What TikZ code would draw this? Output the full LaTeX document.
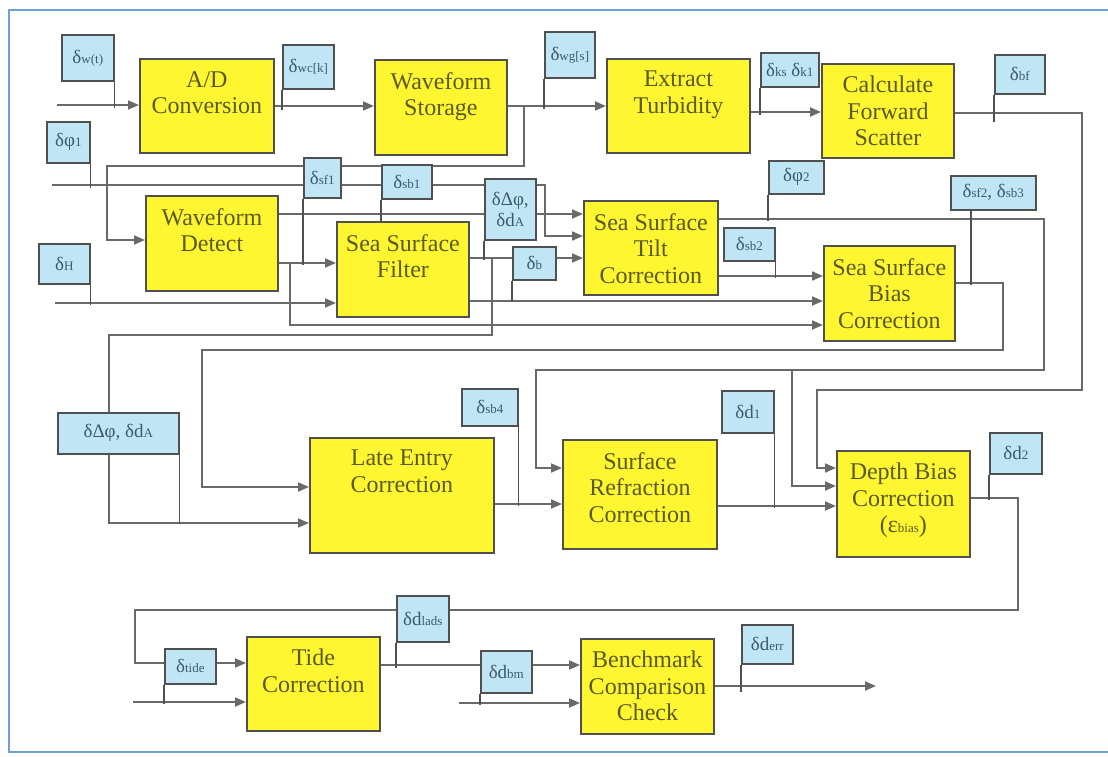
\documentclass[tikz,border=0pt]{standalone}
\usepackage{fontspec}
\setmainfont{Liberation Serif}
\newfontfamily\tnr{Liberation Serif}
\usetikzlibrary{arrows.meta}
\pgfdeclarelayer{bg}
\pgfsetlayers{bg,main}
\definecolor{ylw}{RGB}{255,246,50}
\definecolor{lbl}{RGB}{192,230,246}
\definecolor{bord}{RGB}{80,80,80}
\definecolor{wirec}{RGB}{105,105,105}
\definecolor{ytxt}{RGB}{90,90,35}
\definecolor{btxt}{RGB}{60,90,108}
\definecolor{frm}{RGB}{110,160,215}
\newcommand\mysub[1]{{\fontsize{13}{14}\selectfont #1}}
\tikzset{
 ybox/.style={draw=bord, line width=1.8pt, fill=ylw, inner sep=0pt, anchor=north west},
 bbox/.style={draw=bord, line width=1.6pt, fill=lbl, inner sep=0pt, anchor=north west, text=btxt, font=\tnr\fontsize{19}{21}\selectfont, align=center},
 ytext/.style={anchor=north, align=center, text=ytxt, inner sep=0pt, font=\tnr\fontsize{24}{26.5}\selectfont},
 wire/.style={draw=wirec, line width=1.8pt},
 arr/.style={wire, -{Triangle[length=11pt,width=9pt]}},
 pole/.style={draw=bord, line width=1.6pt},
}
\newcommand\YB[6]{%
 \node[ybox, minimum width={#4-#2}, minimum height={#5-#3}] (#1) at (#2,#3) {};
 \node[ytext] (#1T) at ([yshift=-13pt]#1.north) {#6};}
\newcommand\BB[6]{%
 \node[bbox, minimum width={#4-#2}, minimum height={#5-#3}] (#1) at (#2,#3) {#6};}
\begin{document}
\begin{tikzpicture}[x=1pt,y=-1pt]
\useasboundingbox (0,0) rectangle (1108,757);
\begin{pgfonlayer}{bg}
\fill[white] (0,0) rectangle (1108,757);
\end{pgfonlayer}
\draw[frm, line width=2pt] (9,10) rectangle (1130,752);

% yellow process boxes
\YB{ad}{139}{58}{273}{152}{A/D\\Conversion}
\YB{ws}{374}{59}{506}{154}{Waveform\\Storage}
\YB{et}{606}{58}{749}{152}{Extract\\Turbidity}
\YB{cfs}{821}{63}{953}{157}{Calculate\\Forward\\Scatter}
\YB{wd}{145}{195}{277}{290}{Waveform\\Detect}
\YB{ssf}{336}{221}{468}{316}{Sea Surface\\Filter}
\YB{sst}{583}{200}{717}{294}{Sea Surface\\Tilt\\Correction}
\YB{ssb}{823}{245}{954}{340}{Sea Surface\\Bias\\Correction}
\YB{le}{309}{437}{493}{552}{Late Entry\\Correction}
\YB{src}{562}{439}{716}{548}{Surface\\Refraction\\Correction}
\YB{db}{836}{450}{969}{556}{Depth Bias\\Correction\\(ε\mysub{bias})}
\YB{tc}{246}{636}{379}{730}{Tide\\Correction}
\YB{bcc}{580}{638}{713}{733}{Benchmark\\Comparison\\Check}

% blue error labels
\BB{wt}{61}{34}{113}{80}{δ\mysub{w(t)}}
\BB{wck}{282}{44}{333}{88}{δ\mysub{wc[k]}}
\BB{wgs}{544}{31}{594}{77}{δ\mysub{wg[s]}}
\BB{ks}{760}{52}{818}{86}{δ\mysub{ks} δ\mysub{k1}}
\BB{bf}{994}{54}{1044}{93}{δ\mysub{bf}}
\BB{phia}{46}{121}{89}{162}{δφ\mysub{1}}
\BB{sfa}{303}{157}{340}{197}{δ\mysub{sf1}}
\BB{sba}{381}{164}{431}{198}{δ\mysub{sb1}}
\BB{dpa}{484}{178}{535}{239}{δΔφ,\\δd\mysub{A}}
\BB{b}{512}{246}{555}{279}{δ\mysub{b}}
\BB{phib}{768}{160}{823}{193}{δφ\mysub{2}}
\BB{sbb}{723}{227}{774}{260}{δ\mysub{sb2}}
\BB{sfb}{950}{175}{1035}{209}{δ\mysub{sf2}, δ\mysub{sb3}}
\BB{h}{38}{243}{89}{283}{δ\mysub{H}}
\BB{dpb}{57}{412}{178}{453}{δΔφ, δd\mysub{A}}
\BB{sbd}{461}{388}{517}{425}{δ\mysub{sb4}}
\BB{da}{721}{390}{773}{432}{δd\mysub{1}}
\BB{db2}{989}{432}{1041}{473}{δd\mysub{2}}
\BB{dl}{396}{595}{448}{641}{δd\mysub{lads}}
\BB{tide}{164}{648}{215}{683}{δ\mysub{tide}}
\BB{dbm}{480}{650}{531}{692}{δd\mysub{bm}}
\BB{derr}{741}{624}{792}{663}{δd\mysub{err}}

\begin{pgfonlayer}{bg}
% row 1
\coordinate (in1) at (57,105);
\draw[arr] (in1) -- (ad.west |- in1);
\draw[arr] (ad.east |- 0,106) -- (ws.west |- 0,106);
\draw[arr] (ws.east |- 0,106) -- (et.west |- 0,106);
\coordinate (j1) at (524,106);
\draw[arr] (j1) |- (107,166) |- (wd.west |- 0,240);
\draw[arr] (et.east |- 0,112) -- (cfs.west |- 0,112);
\draw[arr] (cfs.east |- 0,113) -| (1082,390) -| (817,468) -- (db.west |- 0,468);
% phi1 input
\coordinate (in2) at (52,185);
\draw[arr] (in2) -| (545,236) -- (sst.west |- 0,236);
% waveform detect outputs
\draw[arr] (wd.east |- 0,214) -- (sst.west |- 0,214);
\draw[arr] (wd.east |- 0,263) -- (ssf.west |- 0,263);
\coordinate (j2) at (290,263);
\draw[arr] (j2) |- (ssb.west |- 0,325);
\coordinate (in3) at (55,303);
\draw[arr] (in3) -- (ssf.west |- in3);
% sea surface filter outputs
\draw[arr] (ssf.east |- 0,258) -- (sst.west |- 0,258);
\coordinate (j3) at (492,258);
\draw[arr] (j3) |- (109,335) |- (le.west |- 0,523);
\draw[arr] (ssf.east |- 0,301) -- (ssb.west |- 0,301);
% tilt outputs
\draw[arr] (sst.east |- 0,219) -| (1044,370) -| (536,468) -- (src.west |- 0,468);
\coordinate (j4) at (792,370);
\draw[arr] (j4) |- (db.west |- 0,486);
\draw[arr] (sst.east |- 0,276) -- (ssb.west |- 0,276);
% bias output
\draw[arr] (ssb.east |- 0,283) -| (1003,350) -| (202,487) -- (le.west |- 0,487);
% late entry, refraction
\draw[arr] (le.east |- 0,504) -- (src.west |- 0,504);
\draw[arr] (src.east |- 0,506) -- (db.west |- 0,506);
% depth bias output
\draw[arr] (db.east |- 0,498) -| (1018,610) -| (135,663) -- (tc.west |- 0,663);
\coordinate (in4) at (133,702);
\draw[arr] (in4) -- (tc.west |- in4);
\draw[arr] (tc.east |- 0,665) -- (bcc.west |- 0,665);
\coordinate (in5) at (459,703);
\draw[arr] (in5) -- (bcc.west |- in5);
\coordinate (out) at (876,686);
\draw[arr] (bcc.east |- 0,686) -- (out);

% poles of the labels
\draw[pole] (wt.south east) -- (wt.south east |- 0,108);
\draw[pole] (wck.south west) -- (wck.south west |- 0,110);
\draw[pole] (wgs.south west) -- (wgs.south west |- 0,109);
\draw[pole] (ks.south west) -- (ks.south west |- 0,115);
\draw[pole] (bf.south west) -- (bf.south west |- 0,122);
\draw[pole] (phia.south east) -- (phia.south east |- 0,188);
\draw[pole] (sfa.south west) -- (sfa.south west |- 0,265);
\draw[pole] (sba.south west) -- (sba.south west |- 0,221);
\draw[pole] (dpa.south west) -- (dpa.south west |- 0,260);
\draw[pole] (b.south west) -- (b.south west |- 0,302);
\draw[pole] (phib.south west) -- (phib.south west |- 0,221);
\draw[pole] (sbb.south east) -- (sbb.south east |- 0,278);
\draw[pole] ([xshift=21pt]sfb.south west) -- ([xshift=21pt]sfb.south west |- 0,285);
\draw[pole] (h.south east) -- (h.south east |- 0,305);
\draw[pole] (dpb.south east) -- (dpb.south east |- 0,523);
\draw[pole] (sbd.south east) -- (sbd.south east |- 0,506);
\draw[pole] (da.south east) -- (da.south east |- 0,508);
\draw[pole] (db2.south west) -- (db2.south west |- 0,500);
\draw[pole] (dl.south west) -- (dl.south west |- 0,668);
\draw[pole] (tide.south west) -- (tide.south west |- 0,704);
\draw[pole] (dbm.south west) -- (dbm.south west |- 0,705);
\draw[pole] (derr.south west) -- (derr.south west |- 0,692);
\end{pgfonlayer}
\end{tikzpicture}
\end{document}
